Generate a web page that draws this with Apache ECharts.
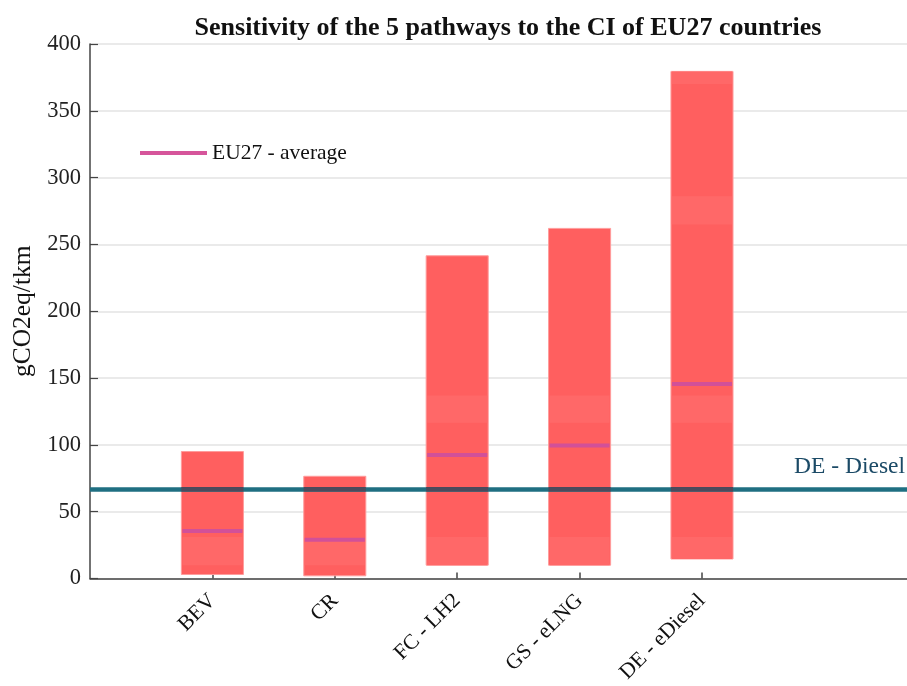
<!DOCTYPE html>
<html><head><meta charset="utf-8">
<script src="https://cdn.jsdelivr.net/npm/echarts@6/dist/echarts.min.js"></script>
<style>html,body{margin:0;padding:0;background:#fff}#c{width:907px;height:686px}</style>
</head><body><div id="c"></div>
<script>
const categories = ['BEV', 'CR', 'FC - LH2', 'GS - eLNG', 'DE - eDiesel'];
const minValues = [3, 2, 10, 10, 14.6];
const maxValues = [95, 76.5, 241.5, 262, 379.5];
const avgValues = [35.5, 29, 92.5, 99.5, 145.5];
const lighterBands = [
  [[10, 31]],
  [[10, 28]],
  [[10, 31], [116.5, 137]],
  [[10, 31], [116.5, 137]],
  [[14.6, 31], [116.5, 137], [265, 286], [370, 379.5]]
];
const dieselRef = 66.8;
const yTickValues = [0, 50, 100, 150, 200, 250, 300, 350, 400];

const FONT = 'Liberation Serif';
const positions = categories.map((c, i) => i + 1);
const barData = categories.map((c, i) => [positions[i], minValues[i], maxValues[i]]);
const avgData = categories.map((c, i) => [positions[i], avgValues[i]]);
const BAR_RATIO = 0.507;

function renderBar(params, api) {
  const x = api.value(0), lo = api.value(1), hi = api.value(2);
  const i = params.dataIndex;
  const w = api.size([1, 0])[0] * BAR_RATIO;
  const pTop = api.coord([x, hi]), pBot = api.coord([x, lo]);
  const children = [{
    type: 'rect',
    shape: {x: pTop[0] - w / 2, y: pTop[1], width: w, height: pBot[1] - pTop[1]},
    style: {fill: '#ff5f5f', stroke: '#ff9c9c', lineWidth: 1}
  }];
  lighterBands[i].forEach(b => {
    const a = api.coord([x, b[1]]), c = api.coord([x, b[0]]);
    children.push({
      type: 'rect',
      shape: {x: pTop[0] - w / 2 + 1, y: a[1], width: w - 2, height: c[1] - a[1]},
      style: {fill: '#ff6868'}
    });
  });
  return {type: 'group', children};
}

function renderOverlap(params, api) {
  const x = api.value(0), lo = api.value(1), hi = api.value(2);
  if (!(dieselRef > lo && dieselRef < hi)) return null;
  const w = api.size([1, 0])[0] * BAR_RATIO;
  const p = api.coord([x, dieselRef]);
  return {
    type: 'rect',
    shape: {x: p[0] - w / 2, y: p[1] - 2.25, width: w, height: 4.5},
    style: {fill: '#4b4a5c'}
  };
}

function renderAvg(params, api) {
  const x = api.value(0), v = api.value(1);
  const w = api.size([1, 0])[0] * BAR_RATIO;
  const p = api.coord([x, v]);
  return {
    type: 'rect',
    shape: {x: p[0] - w / 2 + 1, y: p[1] - 2, width: w - 2, height: 4},
    style: {fill: '#d25098'}
  };
}

const chart = echarts.init(document.getElementById('c'), null, {renderer: 'canvas'});
chart.setOption({
  animation: false,
  backgroundColor: '#fff',
  title: {
    text: 'Sensitivity of the 5 pathways to the CI of EU27 countries',
    left: 503, top: 10, textAlign: 'center',
    textStyle: {fontFamily: FONT, fontSize: 26, fontWeight: 'bold', color: '#111'}
  },
  legend: {
    data: [{name: 'EU27 - average', icon: 'rect'}],
    left: 140, top: 142, padding: 0,
    itemWidth: 67, itemHeight: 4, itemGap: 5,
    textStyle: {fontFamily: FONT, fontSize: 21.5, color: '#111'},
    selectedMode: false
  },
  grid: {left: 90, right: 0, top: 44, bottom: 107.5, containLabel: false, outerBoundsMode: 'none'},
  xAxis: {
    type: 'value', min: 0, max: 6.675, interval: 1,
    splitLine: {show: false},
    axisLine: {show: true, onZero: false, lineStyle: {color: '#444', width: 1.5}},
    axisTick: {show: true, inside: true, length: 6, customValues: positions, lineStyle: {color: '#444', width: 1.5}},
    axisLabel: {
      customValues: positions,
      formatter: v => categories[Math.round(v) - 1] || '',
      rotate: 45, margin: 19,
      fontFamily: FONT, fontSize: 21.5, color: '#111'
    }
  },
  yAxis: {
    type: 'value', min: 0, max: 400, interval: 50,
    name: 'gCO2eq/tkm', nameLocation: 'middle', nameGap: 42,
    nameTextStyle: {fontFamily: FONT, fontSize: 25.5, color: '#111'},
    axisLine: {show: true, lineStyle: {color: '#444', width: 1.5}},
    axisTick: {show: true, inside: true, length: 8, lineStyle: {color: '#444', width: 1.2}},
    axisLabel: {fontFamily: FONT, fontSize: 22.5, color: '#222', margin: 9,
      formatter: v => (yTickValues.indexOf(v) >= 0 ? String(v) : '')},
    splitLine: {show: true, lineStyle: {color: '#e3e3e3', width: 1.5}}
  },
  series: [
    {
      name: 'range', type: 'custom', renderItem: renderBar, data: barData, z: 2,
      encode: {x: 0, y: [1, 2]},
      markLine: {
        silent: true, symbol: 'none', z: 3,
        lineStyle: {color: '#1f6f82', width: 4.5, type: 'solid'},
        label: {show: true, position: 'insideEndTop', formatter: 'DE - Diesel',
          fontFamily: FONT, fontSize: 23.5, color: '#1b4a66', distance: [2, 10]},
        data: [{yAxis: dieselRef}]
      }
    },
    {name: 'overlap', type: 'custom', renderItem: renderOverlap, data: barData, z: 4, encode: {x: 0, y: [1, 2]}},
    {name: 'EU27 - average', type: 'custom', renderItem: renderAvg, data: avgData, z: 5,
      itemStyle: {color: '#d6559b'}, encode: {x: 0, y: 1}}
  ]
});
</script></body></html>
